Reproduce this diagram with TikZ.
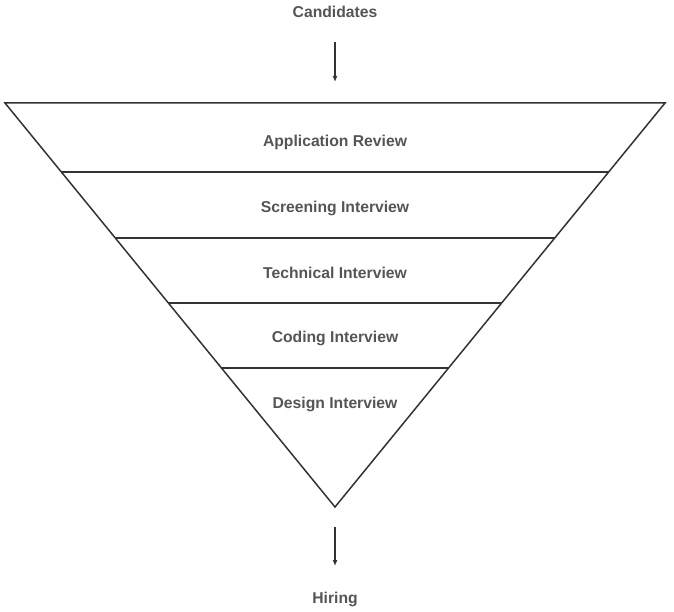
\documentclass[tikz,border=0pt]{standalone}
\usepackage{fontspec}
\setmainfont{Liberation Sans}
\usetikzlibrary{calc,arrows.meta}
\definecolor{linegray}{HTML}{333333}
\definecolor{textgray}{HTML}{555555}
\tikzset{
  stagelabel/.style={font=\fontsize{15.7}{18}\selectfont\bfseries, text=textgray},
  funnelline/.style={draw=linegray, line width=1.5pt},
  flowarrow/.style={draw=linegray, line width=1.3pt, -{Latex[length=6pt,width=5pt]}}
}
\begin{document}
\begin{tikzpicture}[x=1pt,y=-1pt]
\useasboundingbox (0,0) rectangle (674,612);
% funnel outline
\coordinate (tl) at (5,103);
\coordinate (tr) at (665,103);
\coordinate (tip) at (335,507);
\draw[funnelline,line join=miter] (tl) -- (tr) -- (tip) -- cycle;
% stage separators
\foreach \y in {172,238,303,368}
  \draw[funnelline] ($(tl)!{(\y-103)/404}!(tip)$) -- ($(tr)!{(\y-103)/404}!(tip)$);

% stage names
\node[stagelabel] (review) at (335,142) {Application Review};
\node[stagelabel] (screen) at (335,208) {Screening Interview};
\node[stagelabel] (tech) at (335,273) {Technical Interview};
\node[stagelabel] (coding) at (335,338) {Coding Interview};
\node[stagelabel] (design) at (335,404) {Design Interview};

% in and out
\node[stagelabel] (cand) at (335,12) {Candidates};
\node[stagelabel] (hire) at (335,599) {Hiring};
\coordinate (inA) at (335,42);
\coordinate (inB) at (335,82);
\coordinate (outA) at (335,527);
\coordinate (outB) at (335,566);
\draw[flowarrow] (inA) -- (inB);
\draw[flowarrow] (outA) -- (outB);
\end{tikzpicture}
\end{document}
